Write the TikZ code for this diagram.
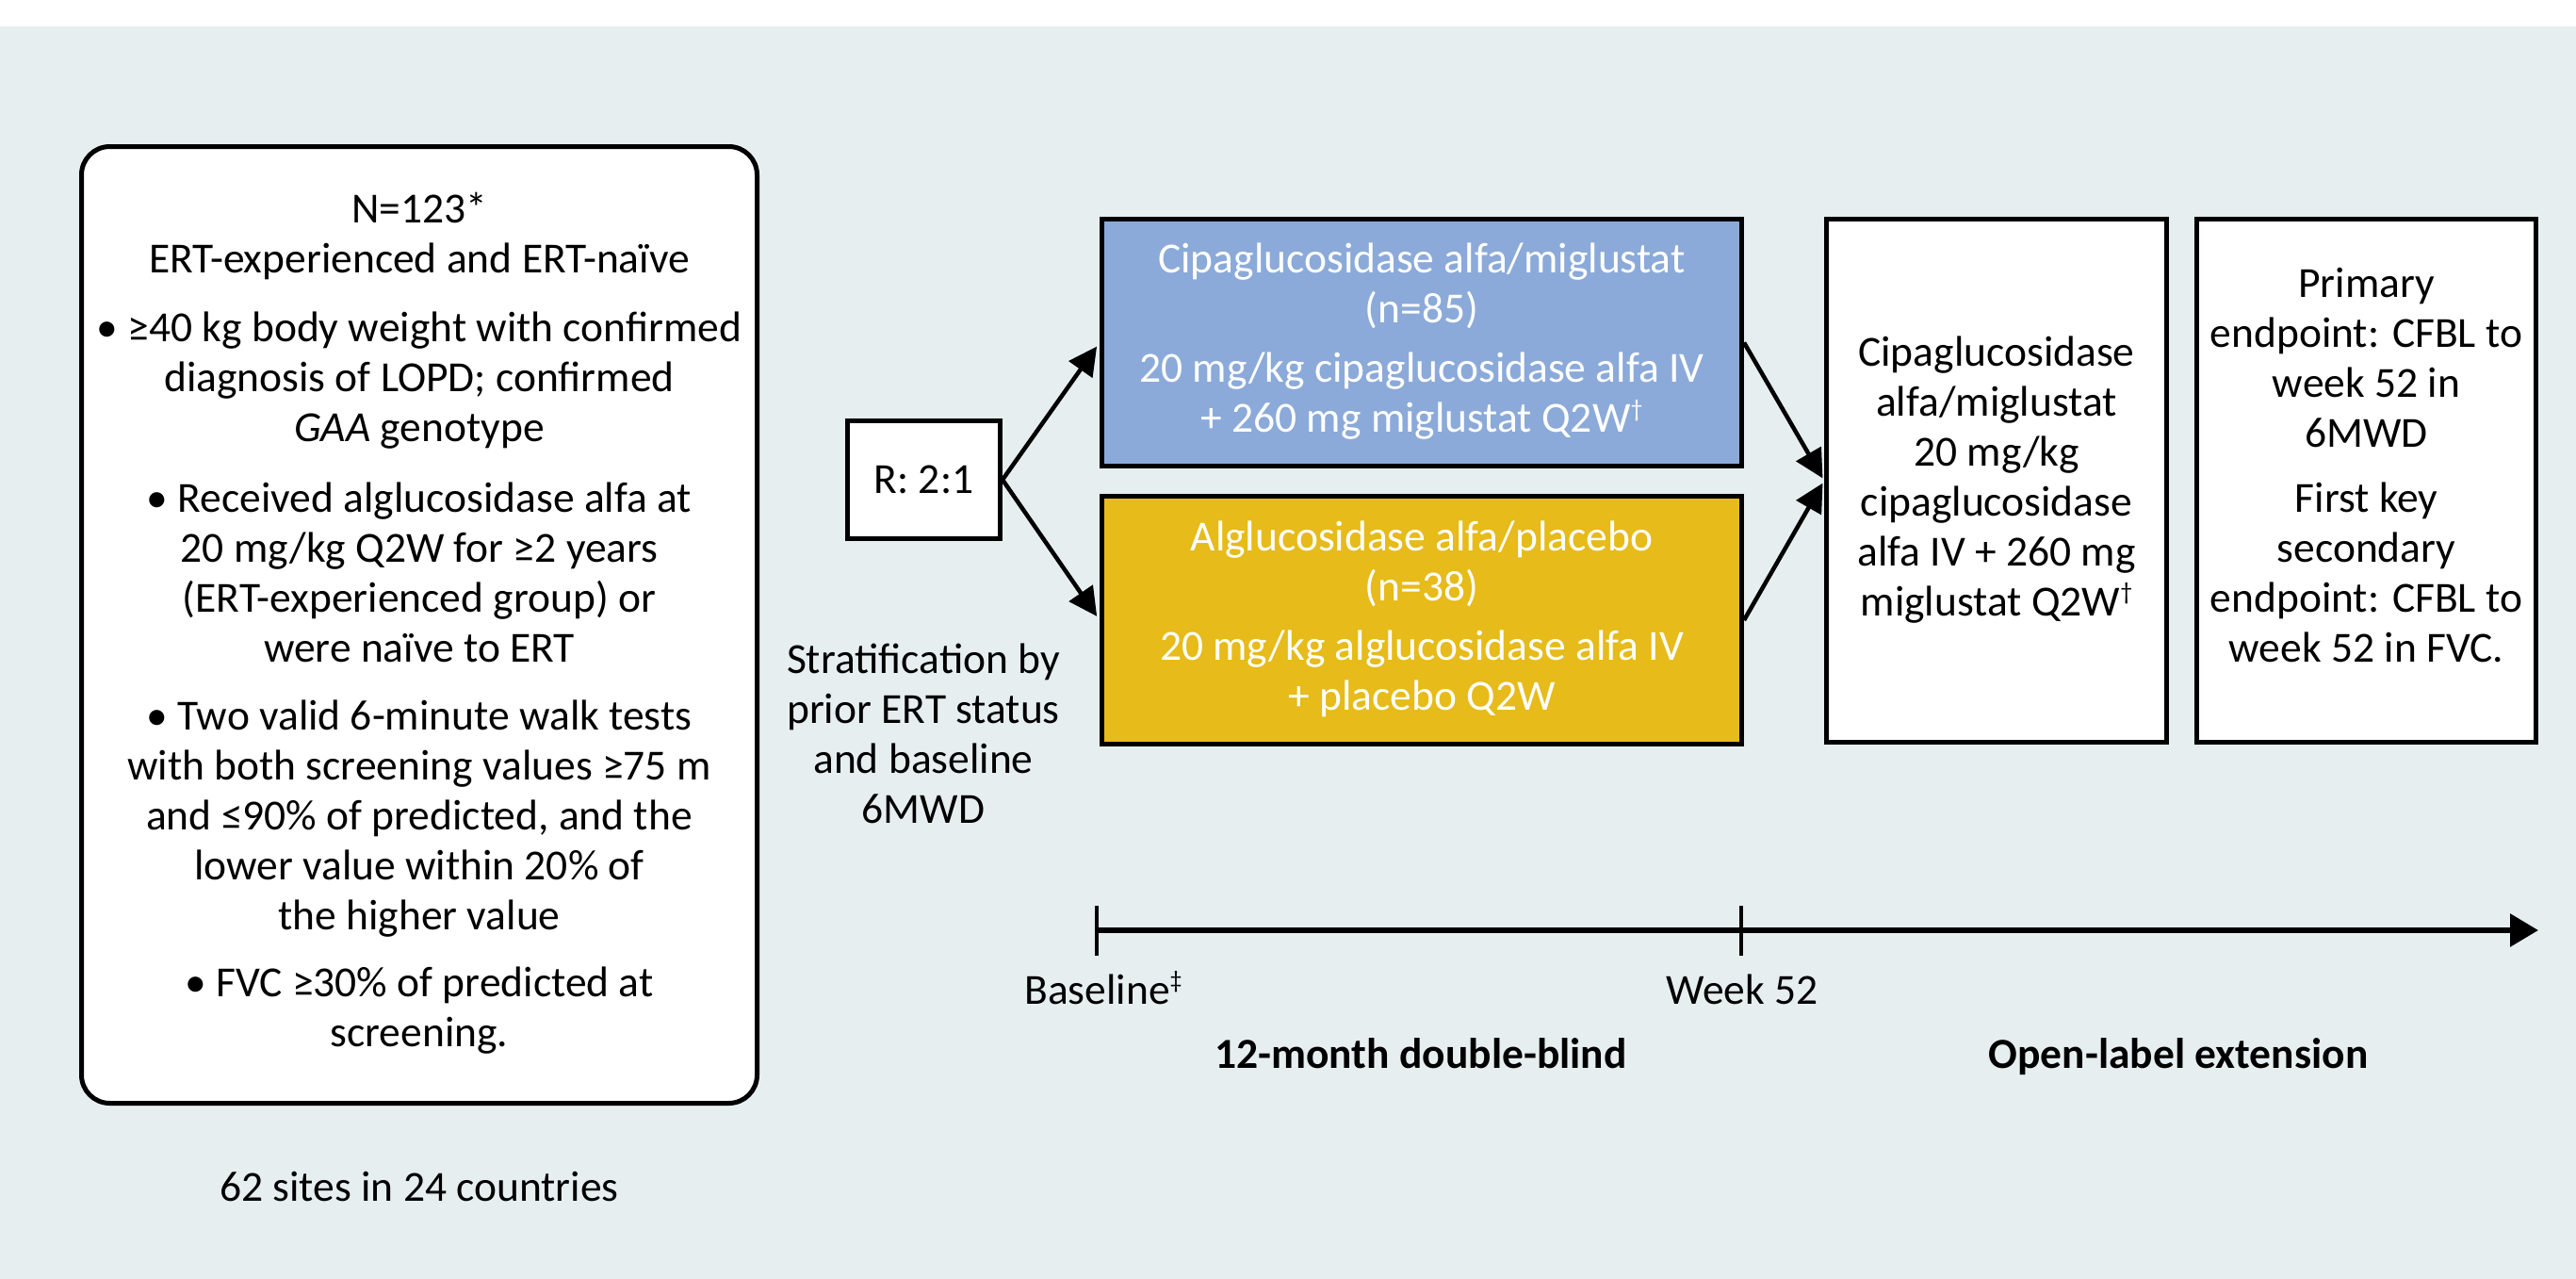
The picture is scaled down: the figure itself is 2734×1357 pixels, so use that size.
\documentclass[tikz,border=0pt]{standalone}
\usepackage{fontspec}
\setmainfont{Carlito}
\usetikzlibrary{arrows.meta}
\definecolor{bgc}{RGB}{230,238,240}
\definecolor{armblue}{RGB}{139,170,217}
\definecolor{armyellow}{RGB}{230,187,26}
\newcommand{\supmark}[1]{\raisebox{0.75ex}{\fontsize{26}{26}\selectfont #1}}
\begin{document}
\begin{tikzpicture}[x=1pt,y=-1pt,
  every node/.style={font=\fontsize{45.5}{53}\selectfont, inner sep=0pt},
  box/.style={draw=black, line width=5pt, align=center},
  conn/.style={line width=4.5pt, -{Triangle[length=30pt,width=30pt]}, shorten >=5pt},
  tickmark/.style={line width=4.5pt},
  lbl/.style={anchor=base, text=black},
  boldlbl/.style={anchor=base, text=black, font=\fontsize{45.5}{53}\selectfont\bfseries}]
\useasboundingbox (0,0) rectangle (2734,1357);
\fill[white] (0,0) rectangle (2734,28);
\fill[bgc] (0,28) rectangle (2734,1357);

% inclusion criteria
\node[box, rounded corners=30pt, fill=white, minimum width=717pt, minimum height=1015pt] (crit) at (445,663)
 {\strut N=123*\\ ERT-experienced and ERT-naïve\\[20pt]
  • ≥40 kg body weight with confirmed\\ diagnosis of LOPD; confirmed\\ \textit{GAA} genotype\\[22pt]
  • Received alglucosidase alfa at\\ 20 mg/kg Q2W for ≥2 years\\ (ERT-experienced group) or\\ were naïve to ERT\\[19pt]
  • Two valid 6-minute walk tests\\ with both screening values ≥75 m\\ and ≤90\% of predicted, and the\\ lower value within 20\% of\\ the higher value\\[18pt]
  • FVC ≥30\% of predicted at\\ screening.\strut};
\node[lbl] (sites) at (445,1274) {62 sites in 24 countries};

% randomisation
\node[box, fill=white, minimum width=162pt, minimum height=125pt] (rand) at (980.5,509) {R: 2:1};
\node[anchor=north, align=center] (strat) at (980,677)
 {\strut Stratification by\\ prior ERT status\\ and baseline\\ 6MWD};

% arms
\node[box, fill=armblue, text=white, minimum width=679pt, minimum height=262pt] (cipa) at (1509,363.5)
 {\strut Cipaglucosidase alfa/miglustat\\ (n=85)\\[10pt] 20 mg/kg cipaglucosidase alfa IV\\ + 260 mg miglustat Q2W\supmark{†}\strut};
\node[box, fill=armyellow, text=white, minimum width=679pt, minimum height=263pt] (algl) at (1509,658)
 {\strut Alglucosidase alfa/placebo\\ (n=38)\\[10pt] 20 mg/kg alglucosidase alfa IV\\ + placebo Q2W\strut};

% open-label and endpoints
\node[box, fill=white, minimum width=361pt, minimum height=555pt] (ole) at (2119,510)
 {\strut Cipaglucosidase\\ alfa/miglustat\\ 20 mg/kg\\ cipaglucosidase\\ alfa IV + 260 mg\\ miglustat Q2W\supmark{†}\strut};
\node[box, fill=white, minimum width=360pt, minimum height=555pt] (endp) at (2511.5,510)
 {\strut Primary\\ endpoint: CFBL to\\ week 52 in\\ 6MWD\\[16pt] First key\\ secondary\\ endpoint: CFBL to\\ week 52 in FVC.\rule[-40pt]{0pt}{40pt}};

% connectors
\draw[conn] (rand.east) -- (cipa.west);
\draw[conn] (rand.east) -- (algl.west);
\draw[conn, shorten >=3pt] (cipa.east) -- (ole.west);
\draw[conn, shorten >=3pt] (algl.east) -- (ole.west);

% timeline
\coordinate (t0) at (1164,987);
\coordinate (t52) at (1848,987);
\coordinate (tend) at (2694,987);
\draw[line width=6pt, -{Triangle[length=30pt,width=34pt]}] (t0) -- (tend);
\draw[tickmark] ([yshift=26pt]t0) -- ([yshift=-27pt]t0);
\draw[tickmark] ([yshift=26pt]t52) -- ([yshift=-27pt]t52);
\node[lbl] (bl) at (1171,1065) {Baseline\supmark{‡}};
\node[lbl] (wk) at (1849,1065) {Week 52};
\node[boldlbl] (db) at (1508,1133) {12-month double-blind};
\node[boldlbl] (ol) at (2312,1133) {Open-label extension};
\end{tikzpicture}
\end{document}
